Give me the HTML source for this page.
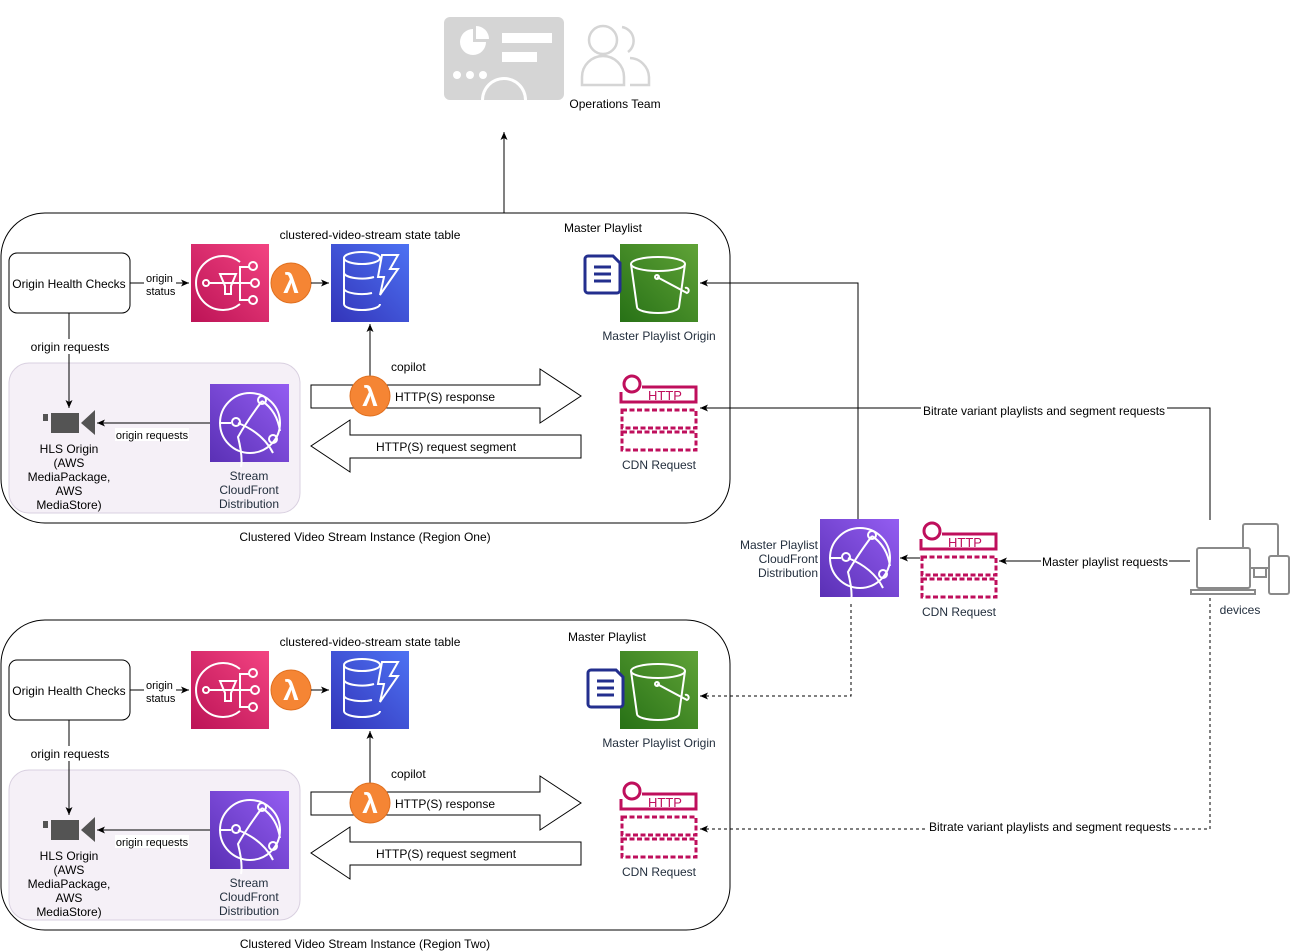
<!DOCTYPE html>
<html><head><meta charset="utf-8"><style>
html,body{margin:0;padding:0;background:#fff;}
svg{display:block;font-family:"Liberation Sans",Arial,sans-serif;}
text{font-size:12px;fill:#000;}
.c{text-anchor:middle;}
.dk{fill:#232f3e;}
</style></head><body>
<svg width="1291" height="952" viewBox="0 0 1291 952" xmlns="http://www.w3.org/2000/svg">
<defs>
<linearGradient id="gp" x1="0" y1="1" x2="1" y2="0"><stop offset="0" stop-color="#bc1356"/><stop offset="1" stop-color="#f34482"/></linearGradient>
<linearGradient id="gb" x1="0" y1="1" x2="1" y2="0"><stop offset="0" stop-color="#3334b9"/><stop offset="1" stop-color="#4d72f3"/></linearGradient>
<linearGradient id="gv" x1="0" y1="1" x2="1" y2="0"><stop offset="0" stop-color="#5a30b5"/><stop offset="1" stop-color="#945df2"/></linearGradient>
<linearGradient id="gg" x1="0" y1="1" x2="1" y2="0"><stop offset="0" stop-color="#277116"/><stop offset="1" stop-color="#60a337"/></linearGradient>
<marker id="ar" markerWidth="10" markerHeight="10" refX="8" refY="5" orient="auto" markerUnits="userSpaceOnUse"><path d="M0,1.5 L8,5 L0,8.5 L2,5 Z" fill="#000"/></marker>
</defs>

<!-- top icons -->
<rect x="444" y="17" width="120" height="83" rx="6" fill="#d5d5d5"/>
<path d="M473,29 a13,13 0 1 0 13,13 h-13 z" fill="#fff"/><path d="M476,26 a13,13 0 0 1 13,13 h-13 z" fill="#fff"/>
<rect x="502" y="33" width="50" height="10" fill="#fff"/><rect x="502" y="52" width="35" height="10" fill="#fff"/>
<circle cx="457" cy="75" r="4" fill="#fff"/><circle cx="470" cy="75" r="4" fill="#fff"/><circle cx="483" cy="75" r="4" fill="#fff"/>
<path d="M481,100 a23,23 0 0 1 46,0 z" fill="#fff"/><path d="M484,100 a20,20 0 0 1 40,0 z" fill="#d5d5d5"/>
<g fill="none" stroke="#d5d5d5" stroke-width="2.5">
<circle cx="603" cy="40" r="14"/>
<path d="M582,85 v-8 a21,21 0 0 1 42,0 v8 z"/>
<path d="M622,27 a14,14 0 0 1 6,25"/>
<path d="M630,58 a20,20 0 0 1 19,19 v8 h-19"/>
</g>
<text class="c" x="615" y="108">Operations Team</text>
<line x1="504" y1="213" x2="504" y2="132" stroke="#000" marker-end="url(#ar)"/>

<!-- REGION ONE -->
<g id="r1">
<rect x="1" y="213" width="729" height="310" rx="44" fill="#fff" stroke="#000"/>
<rect x="9" y="363" width="291" height="150" rx="20" fill="#f5f0f7" stroke="#d9d0e0"/>
<rect x="9" y="253" width="121" height="60" rx="8" fill="#fff" stroke="#000"/>
<text class="c" x="69" y="288">Origin Health Checks</text>
<line x1="130" y1="283" x2="189" y2="283" stroke="#000" marker-end="url(#ar)"/>
<rect x="144" y="270" width="32" height="27" fill="#fff"/>
<text x="146" y="282" style="font-size:11px">origin</text><text x="146" y="295" style="font-size:11px">status</text>
<rect x="191" y="244" width="78" height="78" fill="url(#gp)"/>
<g fill="none" stroke="#fff" stroke-width="2"><path d="M240,262 a27,27 0 1 0 0,42"/><path d="M208,283 h44 M220,274 h16 l-5,12 v8 h-6 v-8 z M240,283 v-16 h10 M240,283 v17 h10"/><circle cx="206" cy="283" r="3"/><circle cx="253" cy="266" r="4"/><circle cx="255" cy="283" r="4"/><circle cx="253" cy="300" r="4"/></g>
<circle cx="291" cy="283" r="20" fill="#f58534" stroke="#e07020"/>
<text class="c" x="291" y="293" style="font-size:28px;fill:#fff;font-weight:bold">λ</text>
<line x1="311" y1="283" x2="329" y2="283" stroke="#000" marker-end="url(#ar)"/>
<text class="c" x="370" y="239">clustered-video-stream state table</text>
<rect x="331" y="244" width="78" height="78" fill="url(#gb)"/>
<g fill="none" stroke="#fff" stroke-width="2"><ellipse cx="362" cy="258" rx="18" ry="6"/><path d="M344,258 v46 a18,6 0 0 0 36,0 M344,273 a18,6 0 0 0 30,4 M344,289 a18,6 0 0 0 28,4"/><path d="M382,255 h16 l-8,14 h8 l-18,26 l4,-18 h-6 z"/></g>
<text x="391" y="371">copilot</text>

<polygon points="311,385 540,385 540,369 581,396 540,423 540,408 311,408" fill="#fff" stroke="#000"/>
<text x="395" y="401">HTTP(S) response</text>
<polygon points="581,435 350,435 350,420 311,446 350,472 350,458 581,458" fill="#fff" stroke="#000"/>
<text x="376" y="451">HTTP(S) request segment</text>
<line x1="370" y1="376" x2="370" y2="324" stroke="#000" marker-end="url(#ar)"/>
<circle cx="370" cy="396" r="20" fill="#f58534" stroke="#e07020"/>
<text class="c" x="370" y="406" style="font-size:28px;fill:#fff;font-weight:bold">λ</text>

<line x1="69" y1="313" x2="69" y2="408" stroke="#000" marker-end="url(#ar)"/>
<rect x="28" y="339" width="84" height="15" fill="#fff"/>
<text class="c" x="70" y="351">origin requests</text>
<rect x="43" y="414" width="5" height="7" fill="#545454"/><rect x="51" y="413" width="28" height="20" fill="#545454"/><polygon points="81,423 95,410 95,435" fill="#545454"/>
<text class="c" x="69" y="453">HLS Origin</text><text class="c" x="69" y="467">(AWS</text><text class="c" x="69" y="481">MediaPackage,</text><text class="c" x="69" y="495">AWS</text><text class="c" x="69" y="509">MediaStore)</text>
<rect x="210" y="384" width="79" height="78" fill="url(#gv)"/>
<g fill="none" stroke="#fff" stroke-width="2"><circle cx="250" cy="423" r="30"/><path d="M262,401 q-15,20 -24,36 q5,20 3,30 M238,423 q25,10 35,30 M231,423 h-12 M262,401 q15,10 18,30"/><circle cx="262" cy="400" r="4"/><circle cx="236" cy="422" r="4"/><circle cx="273" cy="439" r="4"/></g>
<line x1="210" y1="423" x2="97" y2="423" stroke="#000" marker-end="url(#ar)"/>
<rect x="115" y="428" width="74" height="13" fill="#fff"/>
<text class="c" x="152" y="439" style="font-size:11px">origin requests</text>
<text class="c dk" x="249" y="480">Stream</text><text class="c dk" x="249" y="494">CloudFront</text><text class="c dk" x="249" y="508">Distribution</text>

<text class="c" x="603" y="232">Master Playlist</text>
<rect x="620" y="244" width="78" height="78" fill="url(#gg)"/>
<g fill="none" stroke="#fff" stroke-width="2"><ellipse cx="658" cy="264" rx="27" ry="7"/><path d="M631,264 l6,43 a21,6 0 0 0 42,0 l6,-43"/><path d="M657,277 l30,16 a2,2 0 0 0 -2,-5"/><circle cx="657" cy="277" r="2"/></g>
<path d="M588,256 h25 l7,7 v27 a3,3 0 0 1 -3,3 h-29 a3,3 0 0 1 -3,-3 v-31 a3,3 0 0 1 3,-3 z" fill="#fff" stroke="#232f8e" stroke-width="3"/>
<path d="M594,267 h17 M594,274 h17 M594,281 h17" stroke="#232f8e" stroke-width="3"/>
<text class="c dk" x="659" y="340">Master Playlist Origin</text>
<g stroke="#bf0f5c" fill="none" stroke-width="3">
<circle cx="632" cy="384" r="8"/><path d="M642,387 h54 v15 h-75 v-10"/>
<rect x="622" y="410" width="74" height="18" stroke-dasharray="5,2.5"/><rect x="622" y="432" width="74" height="18" stroke-dasharray="5,2.5"/>
</g>
<text x="648" y="400" style="font-size:13px;fill:#bf0f5c">HTTP</text>
<text class="c dk" x="659" y="469">CDN Request</text>
</g>
<text class="c" x="365" y="541">Clustered Video Stream Instance (Region One)</text>

<!-- REGION TWO -->
<g transform="translate(0,407)">
<rect x="1" y="213" width="729" height="310" rx="44" fill="#fff" stroke="#000"/>
<rect x="9" y="363" width="291" height="150" rx="20" fill="#f5f0f7" stroke="#d9d0e0"/>
<rect x="9" y="253" width="121" height="60" rx="8" fill="#fff" stroke="#000"/>
<text class="c" x="69" y="288">Origin Health Checks</text>
<line x1="130" y1="283" x2="189" y2="283" stroke="#000" marker-end="url(#ar)"/>
<rect x="144" y="270" width="32" height="27" fill="#fff"/>
<text x="146" y="282" style="font-size:11px">origin</text><text x="146" y="295" style="font-size:11px">status</text>
<rect x="191" y="244" width="78" height="78" fill="url(#gp)"/>
<g fill="none" stroke="#fff" stroke-width="2"><path d="M240,262 a27,27 0 1 0 0,42"/><path d="M208,283 h44 M220,274 h16 l-5,12 v8 h-6 v-8 z M240,283 v-16 h10 M240,283 v17 h10"/><circle cx="206" cy="283" r="3"/><circle cx="253" cy="266" r="4"/><circle cx="255" cy="283" r="4"/><circle cx="253" cy="300" r="4"/></g>
<circle cx="291" cy="283" r="20" fill="#f58534" stroke="#e07020"/>
<text class="c" x="291" y="293" style="font-size:28px;fill:#fff;font-weight:bold">λ</text>
<line x1="311" y1="283" x2="329" y2="283" stroke="#000" marker-end="url(#ar)"/>
<text class="c" x="370" y="239">clustered-video-stream state table</text>
<rect x="331" y="244" width="78" height="78" fill="url(#gb)"/>
<g fill="none" stroke="#fff" stroke-width="2"><ellipse cx="362" cy="258" rx="18" ry="6"/><path d="M344,258 v46 a18,6 0 0 0 36,0 M344,273 a18,6 0 0 0 30,4 M344,289 a18,6 0 0 0 28,4"/><path d="M382,255 h16 l-8,14 h8 l-18,26 l4,-18 h-6 z"/></g>
<text x="391" y="371">copilot</text>
<polygon points="311,385 540,385 540,369 581,396 540,423 540,408 311,408" fill="#fff" stroke="#000"/>
<text x="395" y="401">HTTP(S) response</text>
<polygon points="581,435 350,435 350,420 311,446 350,472 350,458 581,458" fill="#fff" stroke="#000"/>
<text x="376" y="451">HTTP(S) request segment</text>
<line x1="370" y1="376" x2="370" y2="324" stroke="#000" marker-end="url(#ar)"/>
<circle cx="370" cy="396" r="20" fill="#f58534" stroke="#e07020"/>
<text class="c" x="370" y="406" style="font-size:28px;fill:#fff;font-weight:bold">λ</text>
<line x1="69" y1="313" x2="69" y2="408" stroke="#000" marker-end="url(#ar)"/>
<rect x="28" y="339" width="84" height="15" fill="#fff"/>
<text class="c" x="70" y="351">origin requests</text>
<rect x="43" y="414" width="5" height="7" fill="#545454"/><rect x="51" y="413" width="28" height="20" fill="#545454"/><polygon points="81,423 95,410 95,435" fill="#545454"/>
<text class="c" x="69" y="453">HLS Origin</text><text class="c" x="69" y="467">(AWS</text><text class="c" x="69" y="481">MediaPackage,</text><text class="c" x="69" y="495">AWS</text><text class="c" x="69" y="509">MediaStore)</text>
<rect x="210" y="384" width="79" height="78" fill="url(#gv)"/>
<g fill="none" stroke="#fff" stroke-width="2"><circle cx="250" cy="423" r="30"/><path d="M262,401 q-15,20 -24,36 q5,20 3,30 M238,423 q25,10 35,30 M231,423 h-12 M262,401 q15,10 18,30"/><circle cx="262" cy="400" r="4"/><circle cx="236" cy="422" r="4"/><circle cx="273" cy="439" r="4"/></g>
<line x1="210" y1="423" x2="97" y2="423" stroke="#000" marker-end="url(#ar)"/>
<rect x="115" y="428" width="74" height="13" fill="#fff"/>
<text class="c" x="152" y="439" style="font-size:11px">origin requests</text>
<text class="c dk" x="249" y="480">Stream</text><text class="c dk" x="249" y="494">CloudFront</text><text class="c dk" x="249" y="508">Distribution</text>
<text class="c" x="607" y="234">Master Playlist</text>
<rect x="620" y="244" width="78" height="78" fill="url(#gg)"/>
<g fill="none" stroke="#fff" stroke-width="2"><ellipse cx="658" cy="264" rx="27" ry="7"/><path d="M631,264 l6,43 a21,6 0 0 0 42,0 l6,-43"/><path d="M657,277 l30,16 a2,2 0 0 0 -2,-5"/><circle cx="657" cy="277" r="2"/></g>
<path d="M591,263 h25 l7,7 v27 a3,3 0 0 1 -3,3 h-29 a3,3 0 0 1 -3,-3 v-31 a3,3 0 0 1 3,-3 z" fill="#fff" stroke="#232f8e" stroke-width="3"/>
<path d="M597,274 h17 M597,281 h17 M597,288 h17" stroke="#232f8e" stroke-width="3"/>
<text class="c dk" x="659" y="340">Master Playlist Origin</text>
<g stroke="#bf0f5c" fill="none" stroke-width="3">
<circle cx="632" cy="384" r="8"/><path d="M642,387 h54 v15 h-75 v-10"/>
<rect x="622" y="410" width="74" height="18" stroke-dasharray="5,2.5"/><rect x="622" y="432" width="74" height="18" stroke-dasharray="5,2.5"/>
</g>
<text x="648" y="400" style="font-size:13px;fill:#bf0f5c">HTTP</text>
<text class="c dk" x="659" y="469">CDN Request</text>
</g>
<text class="c" x="365" y="948">Clustered Video Stream Instance (Region Two)</text>

<!-- right side connectors -->
<polyline points="858,519 858,283 700,283" fill="none" stroke="#000" marker-end="url(#ar)"/>
<polyline points="1210,520 1210,408 700,408" fill="none" stroke="#000" marker-end="url(#ar)"/>
<rect x="921" y="403" width="246" height="14" fill="#fff"/>
<text class="c" x="1044" y="415">Bitrate variant playlists and segment requests</text>
<polyline points="851,598 851,696 700,696" fill="none" stroke="#000" stroke-dasharray="3,3" marker-end="url(#ar)"/>
<polyline points="1210,598 1210,829 700,829" fill="none" stroke="#000" stroke-dasharray="3,3" marker-end="url(#ar)"/>
<rect x="928" y="820" width="246" height="14" fill="#fff"/>
<text class="c" x="1050" y="831">Bitrate variant playlists and segment requests</text>

<!-- middle cloudfront -->
<rect x="820" y="519" width="79" height="78" fill="url(#gv)"/>
<g fill="none" stroke="#fff" stroke-width="2"><circle cx="860" cy="558" r="30"/><path d="M872,536 q-15,20 -24,36 q5,20 3,30 M848,558 q25,10 35,30 M841,558 h-12 M872,536 q15,10 18,30"/><circle cx="872" cy="535" r="4"/><circle cx="846" cy="557" r="4"/><circle cx="883" cy="574" r="4"/></g>
<text x="818" y="549" text-anchor="end" class="dk">Master Playlist</text>
<text x="818" y="563" text-anchor="end" class="dk">CloudFront</text>
<text x="818" y="577" text-anchor="end" class="dk">Distribution</text>
<line x1="920" y1="558" x2="900" y2="558" stroke="#000" marker-end="url(#ar)"/>
<g stroke="#bf0f5c" fill="none" stroke-width="3">
<circle cx="932" cy="531" r="8"/><path d="M942,534 h54 v15 h-75 v-10"/>
<rect x="922" y="557" width="74" height="18" stroke-dasharray="5,2.5"/><rect x="922" y="579" width="74" height="18" stroke-dasharray="5,2.5"/>
</g>
<text x="948" y="547" style="font-size:13px;fill:#bf0f5c">HTTP</text>
<text class="c dk" x="959" y="616">CDN Request</text>
<line x1="1190" y1="561" x2="999" y2="561" stroke="#000" marker-end="url(#ar)"/>
<rect x="1041" y="554" width="128" height="14" fill="#fff"/>
<text class="c" x="1105" y="566">Master playlist requests</text>

<!-- devices -->
<g fill="none" stroke="#8a8a8a" stroke-width="2">
<rect x="1243" y="524" width="35" height="44" rx="2"/>
<rect x="1197" y="548" width="53" height="40" rx="2" fill="#fff"/><path d="M1191,590 h64 v4 h-64 z"/>
<rect x="1269" y="556" width="20" height="38" rx="2" fill="#fff"/>
<rect x="1254" y="568" width="12" height="9" fill="#fff"/>
</g>
<text class="c dk" x="1240" y="614">devices</text>
</svg>
</body></html>
